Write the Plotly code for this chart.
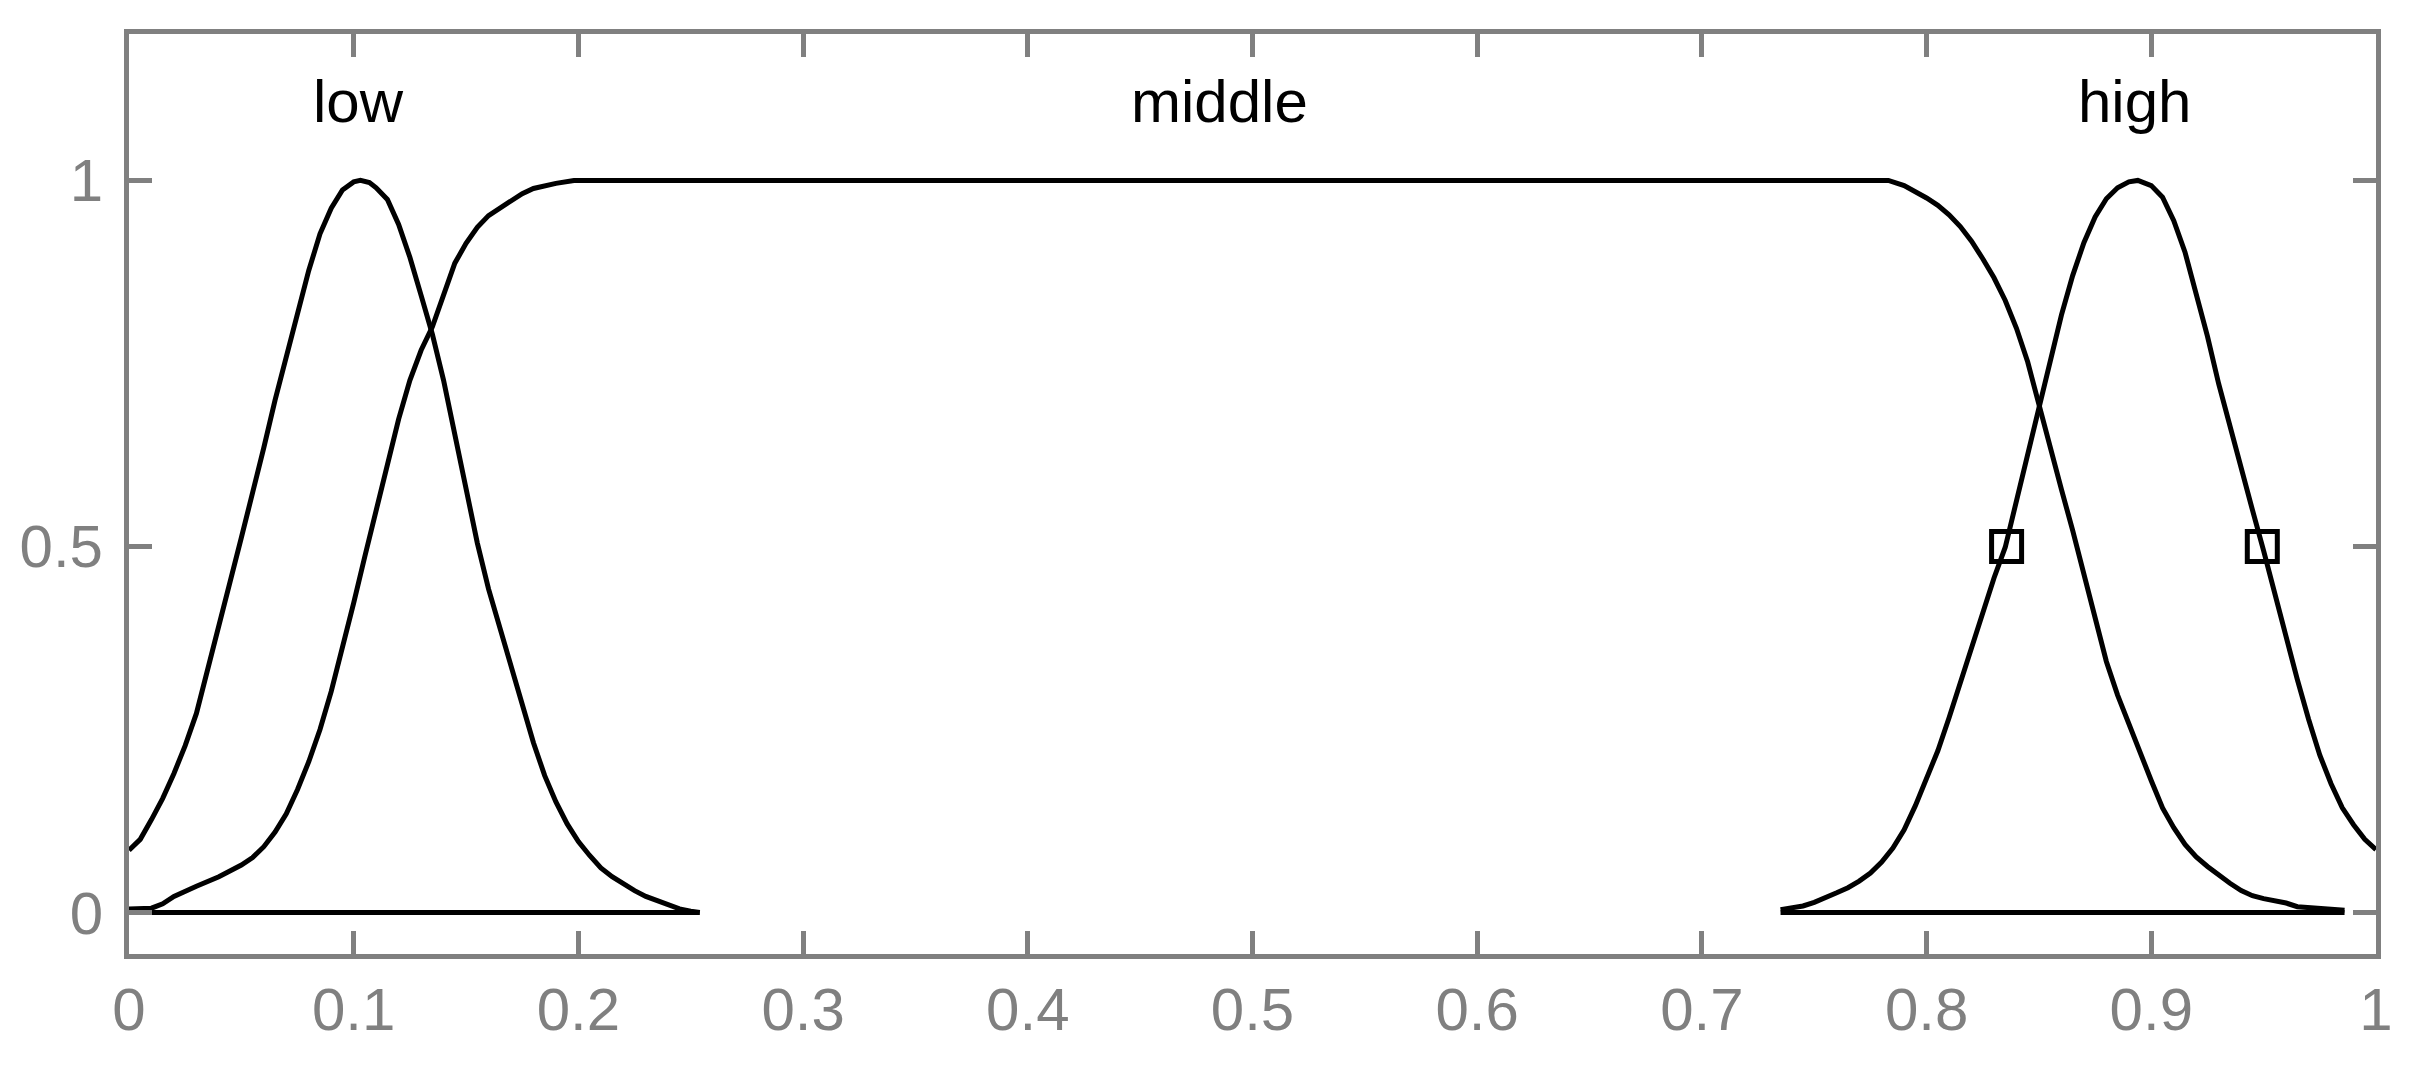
import plotly.graph_objects as go

# membership curves
low_x = [0.0, 0.005, 0.01, 0.015, 0.02, 0.025, 0.03, 0.035, 0.04, 0.045, 0.05, 0.055, 0.06,
         0.065, 0.07, 0.075, 0.08, 0.085, 0.09, 0.095, 0.1, 0.103, 0.107, 0.11, 0.115, 0.12,
         0.125, 0.13, 0.135, 0.14, 0.145, 0.15, 0.155, 0.16, 0.165, 0.17, 0.175, 0.18, 0.185,
         0.19, 0.195, 0.2, 0.205, 0.21, 0.215, 0.22, 0.225, 0.23, 0.235, 0.24, 0.245, 0.25, 0.254]
low_y = [0.085, 0.100, 0.127, 0.156, 0.190, 0.228, 0.272, 0.330, 0.390, 0.452, 0.512, 0.572,
         0.635, 0.700, 0.760, 0.815, 0.877, 0.927, 0.962, 0.987, 0.998, 1.0, 0.997, 0.990,
         0.974, 0.940, 0.895, 0.843, 0.790, 0.727, 0.652, 0.575, 0.505, 0.442, 0.388, 0.337,
         0.284, 0.232, 0.187, 0.151, 0.121, 0.097, 0.078, 0.061, 0.049, 0.039, 0.030, 0.022,
         0.016, 0.010, 0.005, 0.002, 0.0]

middle_x = [0.0, 0.01, 0.015, 0.02, 0.03, 0.04, 0.05, 0.055, 0.06, 0.065, 0.07, 0.075, 0.08,
            0.085, 0.09, 0.095, 0.1, 0.105, 0.11, 0.115, 0.12, 0.125, 0.13, 0.135, 0.14, 0.145,
            0.15, 0.155, 0.16, 0.165, 0.17, 0.175, 0.18, 0.185, 0.19, 0.198,
            0.783, 0.79, 0.795, 0.8, 0.805, 0.81, 0.815, 0.82, 0.825, 0.83, 0.835, 0.84,
            0.845, 0.85, 0.855, 0.86, 0.865, 0.87, 0.875, 0.88, 0.885, 0.89, 0.895, 0.9,
            0.905, 0.91, 0.915, 0.92, 0.925, 0.93, 0.935, 0.94, 0.945, 0.95, 0.955, 0.96,
            0.965, 0.975, 0.986]
middle_y = [0.005, 0.006, 0.012, 0.022, 0.036, 0.049, 0.065, 0.075, 0.090, 0.110, 0.135,
            0.168, 0.206, 0.250, 0.302, 0.360, 0.423, 0.487, 0.550, 0.612, 0.674, 0.727,
            0.768, 0.800, 0.846, 0.887, 0.914, 0.936, 0.952, 0.962, 0.972, 0.982, 0.989,
            0.993, 0.996, 1.0,
            1.0, 0.993, 0.985, 0.976, 0.966, 0.953, 0.937, 0.917, 0.893, 0.867, 0.836, 0.798,
            0.752, 0.693, 0.632, 0.578, 0.522, 0.462, 0.400, 0.343, 0.297, 0.257, 0.218,
            0.180, 0.143, 0.116, 0.093, 0.076, 0.063, 0.051, 0.040, 0.030, 0.023, 0.019,
            0.016, 0.013, 0.008, 0.005, 0.003]

high_x = [0.735, 0.74, 0.745, 0.75, 0.755, 0.76, 0.765, 0.77, 0.775, 0.78, 0.785, 0.79,
          0.795, 0.8, 0.805, 0.81, 0.815, 0.82, 0.825, 0.83, 0.835, 0.84, 0.845, 0.85, 0.855,
          0.86, 0.865, 0.87, 0.875, 0.88, 0.885, 0.89, 0.894, 0.9, 0.905, 0.91, 0.915, 0.92,
          0.925, 0.93, 0.935, 0.94, 0.945, 0.95, 0.955, 0.96, 0.965, 0.97, 0.975, 0.98,
          0.985, 0.99, 0.995, 1.0]
high_y = [0.004, 0.006, 0.009, 0.014, 0.020, 0.027, 0.034, 0.043, 0.054, 0.069, 0.088,
          0.113, 0.146, 0.182, 0.221, 0.266, 0.314, 0.364, 0.412, 0.457, 0.499, 0.562,
          0.630, 0.692, 0.755, 0.816, 0.870, 0.915, 0.950, 0.975, 0.990, 0.998, 1.0, 0.993,
          0.977, 0.945, 0.902, 0.847, 0.787, 0.722, 0.663, 0.605, 0.550, 0.494, 0.435,
          0.375, 0.318, 0.264, 0.215, 0.176, 0.143, 0.120, 0.100, 0.086]

baseline_left_x = [0.0, 0.254]
baseline_right_x = [0.735, 0.986]

marker_x = [0.8356, 0.9494]
marker_y = [0.5, 0.5]

labels = ["low", "middle", "high"]
label_x = [0.102, 0.4855, 0.8925]

x_ticks = [0, 0.1, 0.2, 0.3, 0.4, 0.5, 0.6, 0.7, 0.8, 0.9, 1]
x_tick_text = ["0", "0.1", "0.2", "0.3", "0.4", "0.5", "0.6", "0.7", "0.8", "0.9", "1"]
y_ticks = [0, 0.5, 1]
y_tick_text = ["0", "0.5", "1"]

axis_gray = "#808080"
curve_line = dict(color="black", width=5)

fig = go.Figure()
for xs, ys in [(low_x, low_y), (middle_x, middle_y), (high_x, high_y)]:
    fig.add_trace(go.Scatter(x=xs, y=ys, mode="lines", line=curve_line, hoverinfo="skip"))

for xs in [baseline_left_x, baseline_right_x]:
    fig.add_trace(go.Scatter(x=xs, y=[0] * len(xs), mode="lines",
                             line=dict(color="black", width=5), hoverinfo="skip"))

fig.add_trace(go.Scatter(
    x=marker_x, y=marker_y, mode="markers",
    marker=dict(symbol="square-open", size=30, color="black", line=dict(color="black", width=5)),
    hoverinfo="skip",
))

for text, x in zip(labels, label_x):
    fig.add_annotation(
        x=x, y=1.108, text=text, showarrow=False, xanchor="center", yanchor="middle",
        font=dict(family="Liberation Sans, Arial, sans-serif", size=60, color="black"),
    )

tick_font = dict(family="Liberation Sans, Arial, sans-serif", size=60, color=axis_gray)
axis_style = dict(
    showline=True, linecolor=axis_gray, linewidth=5, mirror="ticks",
    ticks="inside", ticklen=23, tickwidth=4.5, tickcolor=axis_gray,
    showgrid=False, zeroline=False, tickfont=tick_font, fixedrange=True, automargin=False,
)

fig.update_xaxes(range=[0, 1], tickmode="array", tickvals=x_ticks, ticktext=x_tick_text,
                 ticklabelstandoff=-1, **axis_style)
fig.update_yaxes(range=[-0.0566, 1.2], tickmode="array", tickvals=y_ticks, ticktext=y_tick_text,
                 ticklabelstandoff=9, **axis_style)

# the page body adds an 8px margin, so the figure is drawn 16px smaller
fig.update_layout(
    width=2395, height=1053,
    margin=dict(l=121, r=27, t=26, b=107),
    paper_bgcolor="white", plot_bgcolor="white",
    showlegend=False,
)

fig.write_html("out.html")
